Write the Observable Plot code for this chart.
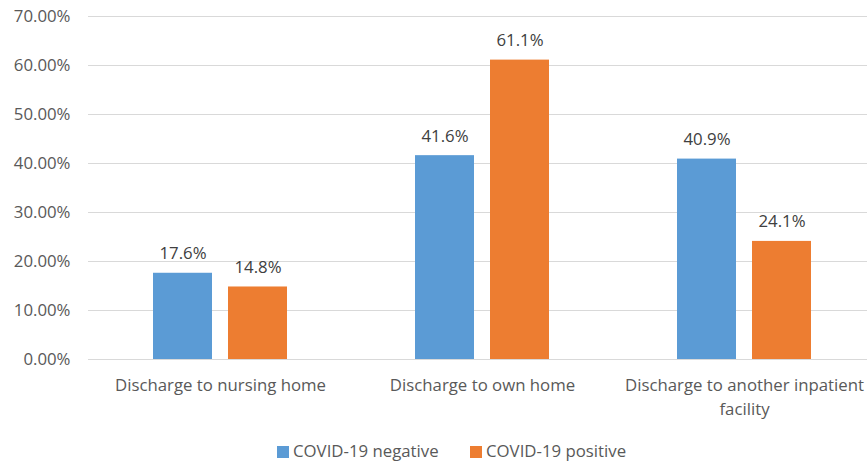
<!DOCTYPE html>
<html>
<head>
<meta charset="utf-8">
<script src="https://cdn.jsdelivr.net/npm/d3@7"></script>
<script src="https://cdn.jsdelivr.net/npm/@observablehq/plot@0.6"></script>
<style>
  html, body { margin: 0; padding: 0; background: #fff; overflow: hidden; }
  #legend { position: relative; height: 32px; font-family: "Open Sans", sans-serif; font-size: 16.8px; color: #595959; }
  #legend .item { position: absolute; top: 11px; line-height: 20px; white-space: nowrap; }
  #legend span.sw { display: inline-block; width: 12px; height: 12px; margin-right: 4px; vertical-align: -1px; }
</style>
</head>
<body>
<div id="chart"></div>
<div id="legend"></div>
<script>
const categories = ["Discharge to nursing home", "Discharge to own home", "Discharge to another inpatient facility"];
const tickLabels = ["Discharge to nursing home", "Discharge to own home", "Discharge to another inpatient\nfacility"];
const series = ["COVID-19 negative", "COVID-19 positive"];
const negative = [17.6, 41.6, 40.9];
const positive = [14.8, 61.1, 24.1];
const yTicks = [0, 10, 20, 30, 40, 50, 60, 70];
const colors = ["#5B9BD5", "#ED7D31"];

const data = [];
categories.forEach((c, i) => {
  data.push({category: c, series: series[0], value: negative[i]});
  data.push({category: c, series: series[1], value: positive[i]});
});
const neg = data.filter(d => d.series === series[0]);
const pos = data.filter(d => d.series === series[1]);

const font = "Open Sans, sans-serif";
const W = 867, H = 430;

const chart = Plot.plot({
  width: W,
  height: H,
  marginLeft: 88,
  marginRight: 0,
  marginTop: 16,
  marginBottom: H - 359,
  style: {fontFamily: font, fontSize: "16px", color: "#595959", background: "#fff"},
  x: {domain: categories, range: [89, 875], padding: 0, axis: null},
  y: {domain: [0, 70], axis: null},
  color: {domain: series, range: colors},
  marks: [
    Plot.ruleY(yTicks, {stroke: "#d9d9d9", strokeWidth: 1}),
    Plot.text(yTicks, {y: d => d, text: d => d.toFixed(2) + "%", frameAnchor: "left", textAnchor: "end", dx: -18, fill: "#595959", fontSize: 16.8}),
    Plot.barY(neg, {x: "category", y: "value", fill: "series", insetLeft: 64, insetRight: 139}),
    Plot.barY(pos, {x: "category", y: "value", fill: "series", insetLeft: 139, insetRight: 64}),
    Plot.text(neg, {x: "category", y: "value", text: d => d.value.toFixed(1) + "%", dx: -37.5, dy: -14, lineAnchor: "bottom", fill: "#404040", fontSize: 16.8}),
    Plot.text(pos, {x: "category", y: "value", text: d => d.value.toFixed(1) + "%", dx: 37.5, dy: -14, lineAnchor: "bottom", fill: "#404040", fontSize: 16.8}),
    Plot.text(categories, {x: d => d, y: 0, text: (d, i) => tickLabels[i], lineAnchor: "top", dy: 14, lineHeight: 1.43, fill: "#595959", fontSize: 16.8})
  ]
});

document.getElementById("chart").appendChild(chart);

const legend = document.getElementById("legend");
const lefts = [277, 470];
series.forEach((s, i) => {
  const item = document.createElement("span");
  item.className = "item";
  item.style.left = lefts[i] + "px";
  item.innerHTML = `<span class="sw" style="background:${colors[i]}"></span>${s}`;
  legend.appendChild(item);
});
</script>
</body>
</html>
